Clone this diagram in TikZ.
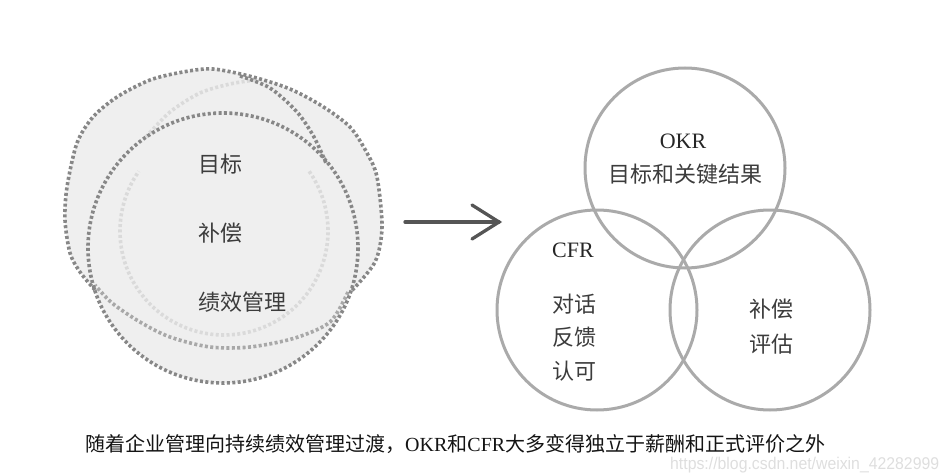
\documentclass[tikz,border=0pt]{standalone}
\usepackage{fontspec}
\setmainfont{Liberation Serif}
\newfontfamily\cjk{Noto Sans CJK SC}
\newfontfamily\wmfont{Liberation Sans}
\definecolor{dashgray}{RGB}{135,135,135}
\definecolor{midgray}{RGB}{168,168,168}
\definecolor{faintgray}{RGB}{218,218,218}
\definecolor{fillgray}{RGB}{239,239,239}
\definecolor{ringgray}{RGB}{170,170,170}
\definecolor{txtgray}{RGB}{60,60,60}
\definecolor{arrgray}{RGB}{85,85,85}
\definecolor{capblack}{RGB}{20,20,20}
\definecolor{wmgray}{RGB}{222,222,222}
\tikzset{
  ddash/.style={draw=dashgray, line width=3.6pt, dash pattern=on 3pt off 2.4pt},
  mdash/.style={ddash, draw=midgray},
  fdash/.style={ddash, draw=faintgray},
  ring/.style={circle, draw=ringgray, line width=3pt, minimum size=200pt, inner sep=0pt},
  lbl/.style={font=\cjk\fontsize{22}{26}\selectfont, text=txtgray, inner sep=0pt},
  latlbl/.style={font=\fontsize{22}{26}\selectfont, text=black!85, inner sep=0pt},
  arr/.style={draw=arrgray, line width=3.3pt, line cap=round, line join=miter},
}
\begin{document}
\begin{tikzpicture}[x=1pt,y=-1pt]
\useasboundingbox (0,0) rectangle (950,476);
% ---------- left: overlapping dotted circles ----------
\def\Apts{(95,290) (80,272) (70,253) (65,220) (67,187) (77,143) (93,117) (117,97) (150,80) (183,72) (213,69) (253,77) (290,89) (322,106) (350,127) (367,153) (377,177) (382,227) (375,262) (350.6,292)}
\fill[fillgray] plot[smooth] coordinates {\Apts} arc[start angle=19, end angle=162, radius=135] -- cycle;
% faint inner circle
\draw[fdash] (224,231) ++(-35:104) arc[start angle=-35, end angle=215, radius=104];
% faint top-left branch
\draw[fdash] plot[smooth] coordinates {(146,137) (170,112) (200,93) (230,84) (255,80)};
% medium lower branch
\draw[mdash] plot[smooth] coordinates {(348,292) (330,322) (295,338) (250,347) (210,347) (170,337) (140,322) (112,303) (95,285)};
% dark circles
\draw[ddash] plot[smooth] coordinates {\Apts};
\draw[ddash] (223,248) circle[radius=135];
\draw[ddash] plot[smooth] coordinates {(240,76) (270,88) (297,112) (314,137) (326,163)};
\node[lbl, anchor=west] (goal) at (198,164) {目标};
\node[lbl, anchor=west] (comp) at (198,233) {补偿};
\node[lbl, anchor=west] (perf) at (198,302) {绩效管理};
% ---------- arrow ----------
\coordinate (arrtail) at (405,222);
\coordinate (arrtip) at (499,222);
\coordinate (arrup) at (472,205);
\coordinate (arrdn) at (472,239);
\draw[arr] (arrtail) -- (arrtip);
\draw[arr] (arrup) -- (arrtip) -- (arrdn);
% ---------- right: three circles ----------
\node[ring] (okr) at (685,168) {};
\node[ring] (cfr) at (597,310) {};
\node[ring] (rew) at (770,310) {};
\node[latlbl] (okrt) at (683,141) {OKR};
\node[lbl] (okrs) at (685,174) {目标和关键结果};
\node[latlbl] (cfrt) at (573,250) {CFR};
\node[lbl] (c1) at (574,304) {对话};
\node[lbl] (c2) at (574,337) {反馈};
\node[lbl] (c3) at (574,371) {认可};
\node[lbl] (r1) at (771,309) {补偿};
\node[lbl] (r2) at (771,344) {评估};
% ---------- caption & watermark ----------
\node[anchor=west, inner sep=0pt, text=capblack, font=\fontsize{20}{24}\selectfont] (cap) at (85,444)
  {{\cjk 随着企业管理向持续绩效管理过渡，}OKR{\cjk 和}CFR{\cjk 大多变得独立于薪酬和正式评价之外}};
\node[anchor=west, inner sep=0pt, text=wmgray, font=\wmfont\fontsize{17}{20}\selectfont] (wm) at (670,465)
  {\scalebox{0.93}[1]{https://blog.csdn.net/weixin\_42282999}};
\end{tikzpicture}
\end{document}
